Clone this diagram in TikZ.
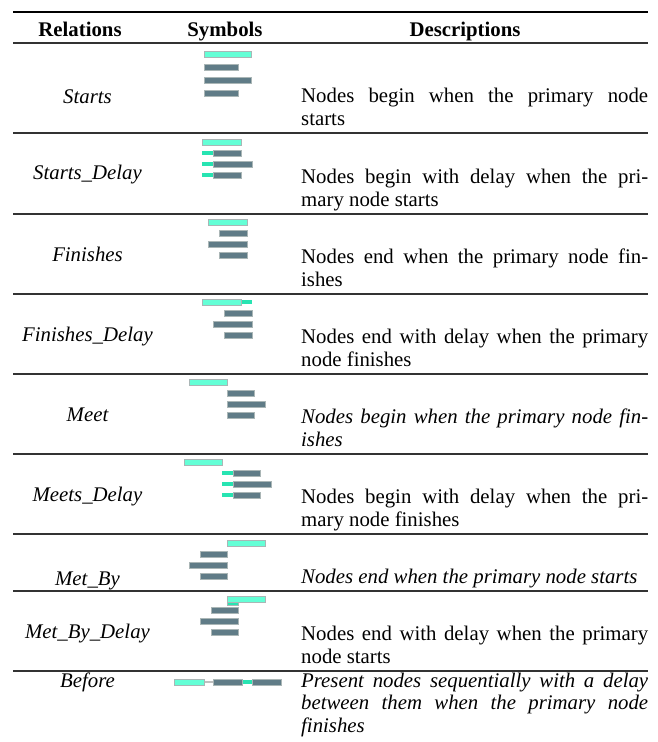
\documentclass[tikz,border=0pt]{standalone}
\usepackage{fontspec}
\setmainfont{Liberation Serif}
\definecolor{primC}{RGB}{100,255,214}
\definecolor{nodeC}{RGB}{96,124,135}
\definecolor{leadC}{RGB}{40,228,178}
\definecolor{edgeC}{RGB}{170,182,182}
\newcommand\tabsize{\fontsize{20.8}{22.5}\selectfont}
\tikzset{
  hdr/.style={font=\tabsize\bfseries, anchor=base, inner sep=0},
  rel/.style={font=\tabsize\itshape, anchor=base, inner sep=0},
  desc/.style={font=\tabsize, anchor=base west, inner sep=0, text width=347pt, align=justify},
  idesc/.style={desc, font=\tabsize\itshape},
  toprl/.style={line width=2pt, black},
  midrl/.style={line width=1.3pt, black!80},
  pbar/.style={fill=primC, draw=edgeC, line width=0.7pt},
  nbar/.style={fill=nodeC, draw=edgeC, line width=0.7pt},
  lbar/.style={fill=leadC},
  gapbar/.style={fill=black!25},
}
% primary bar, node bar, delay lead: x1, x2, y-centre
\newcommand\pribar[3]{\draw[pbar] (#1,#3-3) rectangle (#2,#3+3);}
\newcommand\secbar[3]{\draw[nbar] (#1,#3-3) rectangle (#2,#3+3);}
\newcommand\delaylead[3]{\fill[lbar] (#1,#3-1.6) rectangle (#2,#3+1.6);}
\begin{document}
\begin{tikzpicture}[x=1pt,y=-1pt]
\useasboundingbox (0,0) rectangle (658,742);
% rules
\draw[toprl] (13,12) -- (648,12);
\foreach \yy in {43,133,214,294,374,454,534,591,671}
  \draw[midrl] (13,\yy) -- (648,\yy);
% header
\node[hdr] (hrel) at (80,36) {Relations};
\node[hdr] (hsym) at (225,36) {Symbols};
\node[hdr] (hdes) at (465,36) {Descriptions};
% relation names
\node[rel] (r1) at (87.5,103.5) {Starts};
\node[rel] (r2) at (87.5,179.5) {Starts\_Delay};
\node[rel] (r3) at (87.5,261.5) {Finishes};
\node[rel] (r4) at (87.5,341.5) {Finishes\_Delay};
\node[rel] (r5) at (87.5,421.5) {Meet};
\node[rel] (r6) at (87.5,501.5) {Meets\_Delay};
\node[rel] (r7) at (87.5,585) {Met\_By};
\node[rel] (r8) at (87.5,638.5) {Met\_By\_Delay};
\node[rel] (r9) at (87.5,687) {Before};
% descriptions
\node[desc] (d1) at (301,102.7) {Nodes begin when the primary node\linebreak starts};
\node[desc] (d2) at (301,183.7) {Nodes begin with delay when the pri-\linebreak mary node starts};
\node[desc] (d3) at (301,263.7) {Nodes end when the primary node fin-\linebreak ishes};
\node[desc] (d4) at (301,343.7) {Nodes end with delay when the primary\linebreak node finishes};
\node[idesc] (d5) at (301,423.7) {Nodes begin when the primary node fin-\linebreak ishes};
\node[desc] (d6) at (301,503.7) {Nodes begin with delay when the pri-\linebreak mary node finishes};
\node[idesc] (d7) at (301,583.5) {Nodes end when the primary node starts};
\node[desc] (d8) at (301,640.7) {Nodes end with delay when the primary\linebreak node starts};
\node[idesc] (d9) at (301,687) {Present nodes sequentially with a delay\linebreak between them when the primary node\linebreak finishes};
% symbols: Starts
\pribar{204}{251}{54}
\secbar{204}{238}{67}
\secbar{204}{251}{80}
\secbar{204}{238}{93}
% Starts_Delay
\pribar{202}{241}{142}
\delaylead{202}{214}{153}\secbar{213}{241}{153}
\delaylead{202}{214}{164}\secbar{213}{252}{164}
\delaylead{202}{214}{175}\secbar{213}{241}{175}
% Finishes
\pribar{208}{247}{222}
\secbar{219}{247}{233}
\secbar{208}{247}{244}
\secbar{219}{247}{255}
% Finishes_Delay
\delaylead{240}{252}{302}\pribar{202}{241}{302}
\secbar{224}{252}{313}
\secbar{213}{252}{324}
\secbar{224}{252}{335}
% Meet
\pribar{189}{227}{382}
\secbar{227}{254}{393}
\secbar{227}{265}{404}
\secbar{227}{254}{415}
% Meets_Delay
\pribar{184}{222}{462}
\delaylead{222}{234}{473}\secbar{233}{260}{473}
\delaylead{222}{234}{484}\secbar{233}{271}{484}
\delaylead{222}{234}{495}\secbar{233}{260}{495}
% Met_By
\pribar{227}{265}{543}
\secbar{200}{227}{554}
\secbar{189}{227}{565}
\secbar{200}{227}{576}
% Met_By_Delay
\pribar{227}{265}{599}
\draw[lbar, draw=edgeC, line width=0.5pt] (227,602.3) rectangle (238,605.7);
\secbar{211}{238}{610}
\secbar{200}{238}{621}
\secbar{211}{238}{632}
% Before
\fill[gapbar] (203,681) rectangle (214,683);
\delaylead{241}{253}{682}
\pribar{174}{204}{682}
\secbar{213}{242}{682}
\secbar{252}{281}{682}
\end{tikzpicture}
\end{document}
